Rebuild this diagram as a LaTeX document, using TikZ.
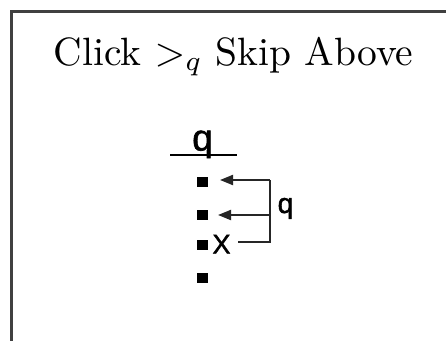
\documentclass[tikz,border=0pt]{standalone}
\usepackage{fontspec}
\newfontfamily\qxfont[FakeBold=1.6]{Liberation Sans}
\usetikzlibrary{arrows.meta}
\tikzset{
  sq/.style={fill=black, minimum width=11pt, minimum height=10pt, inner sep=0pt},
  brk/.style={line width=2pt, black!85},
  brkarrow/.style={brk, -{Triangle[length=13pt,width=10pt]}},
  sanslbl/.style={inner sep=0pt, font=\qxfont}
}
\begin{document}
\begin{tikzpicture}[x=1pt,y=-1pt]
\useasboundingbox (0,0) rectangle (446,340);
\fill[white] (0,0) rectangle (446,340);
\draw[line width=2.5pt, black!75] (11.5,341) -- (11.5,11.5) -- (447,11.5);
\node[anchor=base, scale=3.95, inner sep=0pt] (title) at (233.5,65) {Click $>_q$ Skip Above};
\node[sanslbl, anchor=base, font=\qxfont\fontsize{37}{42}\selectfont] (topq) at (202.5,150.5) {q};
\coordinate (ls) at (170,155);
\coordinate (le) at (237,155);
\draw[line width=2pt] (ls) -- (le);
\node[sq] (s1) at (202.5,181.5) {};
\node[sq] (s2) at (202.5,215) {};
\node[sq] (s3) at (202.5,244.5) {};
\node[sq] (s4) at (202.5,277.5) {};
\node[sanslbl, anchor=base, font=\qxfont\fontsize{27}{32}\selectfont] (x) at (221.5,253.5) {X};
\coordinate (b1) at (270,180);
\coordinate (b2) at (270,215);
\coordinate (b3) at (270,242);
\coordinate (b3s) at (238,242);
\coordinate (t1) at (220,180);
\coordinate (t2) at (218,215);
\draw[brk] (b3s) -- (b3) -- (b1);
\draw[brkarrow] (b1) -- (t1);
\draw[brkarrow] (b2) -- (t2);
\node[sanslbl, anchor=base, font=\qxfont\fontsize{28}{32}\selectfont] (rq) at (285.5,213) {q};
\end{tikzpicture}
\end{document}
